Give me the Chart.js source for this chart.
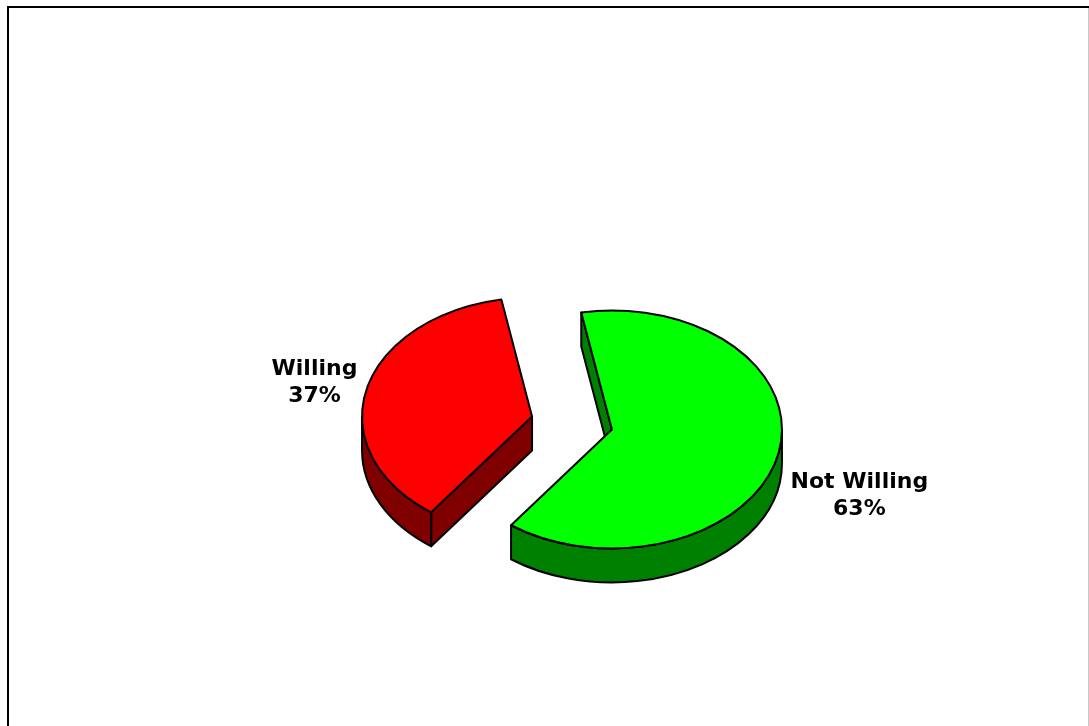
<!DOCTYPE html>
<html>
<head>
<meta charset="utf-8">
<title>Willing / Not Willing</title>
<script src="https://cdn.jsdelivr.net/npm/chart.js@4"></script>
<style>
  body { margin: 0; background: #fff; }
  canvas { display: block; }
</style>
</head>
<body>
<canvas id="pie" width="1089" height="726"></canvas>
<script>
'use strict'

var labels = ['Willing', 'Not Willing'];
var values = [37, 63];
var topColors = ['#ff0000', '#00ff00'];
var sideColors = ['#800000', '#008000'];

var tilt = 0.7;     // vertical squash of the pie top
var depth = 34;     // thickness of the pie
var explode = 164;  // chart.js offset, moves each slice offset/4 px out

/////////////////////////////////////////////////////////////////
// frame round the whole chart
var framePlugin = {
  id: 'frame',
  beforeDraw: function (chart) {
    var ctx = chart.ctx;
    ctx.save();
    ctx.fillStyle = '#fff';
    ctx.fillRect(0, 0, chart.width, chart.height);
    ctx.strokeStyle = '#000';
    ctx.lineWidth = 2;
    ctx.strokeRect(8, 7, chart.width + 50, chart.height + 50);
    ctx.strokeStyle = '#c8c8c8';
    ctx.lineWidth = 1;
    ctx.beginPath();
    ctx.moveTo(chart.width - 0.5, 8);
    ctx.lineTo(chart.width - 0.5, chart.height);
    ctx.stroke();
    ctx.restore();
  }
};

/////////////////////////////////////////////////////////////////
// draws the arcs as a tilted 3d pie instead of the flat ones
function sliceGeom(el) {
  var mid = (el.startAngle + el.endAngle) / 2;
  var off = (el.options.offset || 0) / 4;
  var rx = el.outerRadius;
  return {
    cx: el.x + Math.cos(mid) * off,
    cy: el.y + Math.sin(mid) * off * tilt,
    rx: rx,
    ry: rx * tilt,
    s: el.startAngle,
    e: el.endAngle,
    mid: mid
  };
}

function radialFace(ctx, g, a) {
  var px = g.cx + g.rx * Math.cos(a);
  var py = g.cy + g.ry * Math.sin(a);
  ctx.beginPath();
  ctx.moveTo(g.cx, g.cy);
  ctx.lineTo(px, py);
  ctx.lineTo(px, py + depth);
  ctx.lineTo(g.cx, g.cy + depth);
  ctx.closePath();
  ctx.fill();
  ctx.stroke();
}

function outerWall(ctx, g) {
  var TAU = Math.PI * 2;
  var s0 = ((g.s % TAU) + TAU) % TAU;
  var e0 = s0 + (g.e - g.s);
  // front half of the ellipse is 0..PI (and again 2PI..3PI)
  var ranges = [[0, Math.PI], [TAU, TAU + Math.PI]];
  for (var i = 0; i < ranges.length; i++) {
    var a1 = Math.max(s0, ranges[i][0]);
    var a2 = Math.min(e0, ranges[i][1]);
    if (a2 <= a1) continue;
    ctx.beginPath();
    ctx.ellipse(g.cx, g.cy, g.rx, g.ry, 0, a1, a2);
    ctx.ellipse(g.cx, g.cy + depth, g.rx, g.ry, 0, a2, a1, true);
    ctx.closePath();
    ctx.fill();
    ctx.stroke();
  }
}

var pie3dPlugin = {
  id: 'pie3d',
  beforeDatasetsDraw: function (chart) {
    var ctx = chart.ctx;
    var meta = chart.getDatasetMeta(0);
    var slices = [];
    for (var i = 0; i < meta.data.length; i++) {
      slices.push({ i: i, g: sliceGeom(meta.data[i]) });
    }
    // back to front
    slices.sort(function (a, b) { return a.g.cy - b.g.cy; });

    ctx.save();
    ctx.lineWidth = 2;
    ctx.lineJoin = 'round';
    ctx.strokeStyle = '#000';
    for (var k = 0; k < slices.length; k++) {
      var g = slices[k].g;
      var n = slices[k].i;
      ctx.fillStyle = sideColors[n];
      if (Math.cos(g.s) < 0) radialFace(ctx, g, g.s);
      if (Math.cos(g.e) > 0) radialFace(ctx, g, g.e);
      outerWall(ctx, g);

      ctx.fillStyle = meta.data[n].options.backgroundColor;
      ctx.beginPath();
      ctx.moveTo(g.cx, g.cy);
      ctx.ellipse(g.cx, g.cy, g.rx, g.ry, 0, g.s, g.e);
      ctx.closePath();
      ctx.fill();
      ctx.stroke();
    }

    // labels outside each slice
    var total = values.reduce(function (a, b) { return a + b; }, 0);
    ctx.font = 'bold 22px "DejaVu Sans"';
    ctx.fillStyle = '#000';
    ctx.textAlign = 'center';
    ctx.textBaseline = 'middle';
    for (var j = 0; j < meta.data.length; j++) {
      var gg = sliceGeom(meta.data[j]);
      var line1 = labels[j];
      var line2 = Math.round(values[j] / total * 100) + '%';
      var w = Math.max(ctx.measureText(line1).width, ctx.measureText(line2).width);
      var rimX = gg.cx + gg.rx * Math.cos(gg.mid);
      var rimY = gg.cy + gg.ry * Math.sin(gg.mid);
      var right = Math.cos(gg.mid) > 0;
      var lx = right ? rimX + 13 + w / 2 : rimX - 9 - w / 2;
      var ly = Math.sin(gg.mid) > 0 ? rimY + depth + 5 : rimY - 7;
      ctx.fillText(line1, lx, ly - 13);
      ctx.fillText(line2, lx, ly + 14);
    }
    ctx.restore();
    return false;
  }
};

/////////////////////////////////////////////////////////////////
var ctx = document.getElementById('pie').getContext('2d');
var chart = new Chart(ctx, {
  type: 'pie',
  data: {
    labels: labels,
    datasets: [{
      data: values,
      backgroundColor: topColors,
      borderColor: '#000',
      borderWidth: 2,
      offset: explode
    }]
  },
  options: {
    responsive: false,
    animation: false,
    rotation: 216.4,
    radius: 170,
    layout: { padding: { left: 55, top: 120, right: 0, bottom: 0 } },
    plugins: {
      legend: { display: false },
      tooltip: { enabled: false }
    }
  },
  plugins: [framePlugin, pie3dPlugin]
});
</script>
</body>
</html>
